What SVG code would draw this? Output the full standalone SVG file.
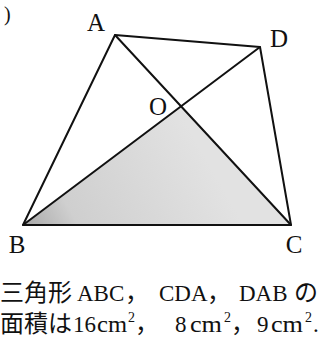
<svg xmlns="http://www.w3.org/2000/svg" width="324" height="338" viewBox="0 0 324 338">
<defs>
<linearGradient id="shade" gradientUnits="userSpaceOnUse" x1="23" y1="225" x2="190" y2="130">
<stop offset="0" stop-color="#a8a8a8"/>
<stop offset="0.25" stop-color="#cfcfcf"/>
<stop offset="1" stop-color="#e2e2e2"/>
</linearGradient>
</defs>
<style>
.edge{stroke:#111;stroke-width:2;fill:none;stroke-linecap:round;stroke-linejoin:round}
.lbl{font-family:"Liberation Serif",serif;font-size:25px;fill:#111;text-anchor:middle}
.cap{font-family:"Liberation Serif","Noto Sans CJK JP",serif;fill:#111}
.jp{font-family:"Noto Sans CJK JP",sans-serif;font-size:24px}
.lat{font-family:"Liberation Serif",serif;font-size:23px}
.sup{font-family:"Liberation Serif",serif;font-size:14px}
</style>
<rect width="324" height="338" fill="#fff"/>
<text x="4" y="21" font-family="Liberation Serif, serif" font-size="20" fill="#111">)</text>
<g id="region-OBC"><polygon points="181,106 23,225 291,225" fill="url(#shade)"/></g>
<g id="connectors">
<polyline class="edge" points="23,225 115,35 260,47 291,225 23,225"/>
<line class="edge" x1="115" y1="35" x2="291" y2="225"/>
<line class="edge" x1="23" y1="225" x2="260" y2="47"/>
</g>
<g id="node-A"><text class="lbl" x="96" y="31">A</text></g>
<g id="node-D"><text class="lbl" x="279" y="47">D</text></g>
<g id="node-O"><text class="lbl" x="158" y="115">O</text></g>
<g id="node-B"><text class="lbl" x="17" y="253">B</text></g>
<g id="node-C"><text class="lbl" x="294" y="253">C</text></g>
<g id="caption">
<text class="cap" y="301"><tspan class="jp" x="0">三角形</tspan><tspan class="lat" x="77">ABC</tspan><tspan class="jp" x="125">，</tspan><tspan class="lat" x="159">CDA</tspan><tspan class="jp" x="207">，</tspan><tspan class="lat" x="239">DAB</tspan><tspan class="jp" x="294">の</tspan></text>
<text class="cap" y="332"><tspan class="jp" x="0">面積は</tspan><tspan class="lat" x="73">16</tspan><tspan class="lat" x="97" textLength="30" lengthAdjust="spacingAndGlyphs">cm</tspan><tspan class="sup" x="128" y="322">2</tspan><tspan class="jp" x="135" y="332">，</tspan><tspan class="lat" x="175">8</tspan><tspan class="lat" x="190" textLength="32" lengthAdjust="spacingAndGlyphs">cm</tspan><tspan class="sup" x="224" y="322">2</tspan><tspan class="jp" x="231" y="332">，</tspan><tspan class="lat" x="257">9</tspan><tspan class="lat" x="271" textLength="32" lengthAdjust="spacingAndGlyphs">cm</tspan><tspan class="sup" x="305" y="322">2</tspan><tspan class="lat" x="313" y="332">.</tspan></text>
</g>
</svg>
